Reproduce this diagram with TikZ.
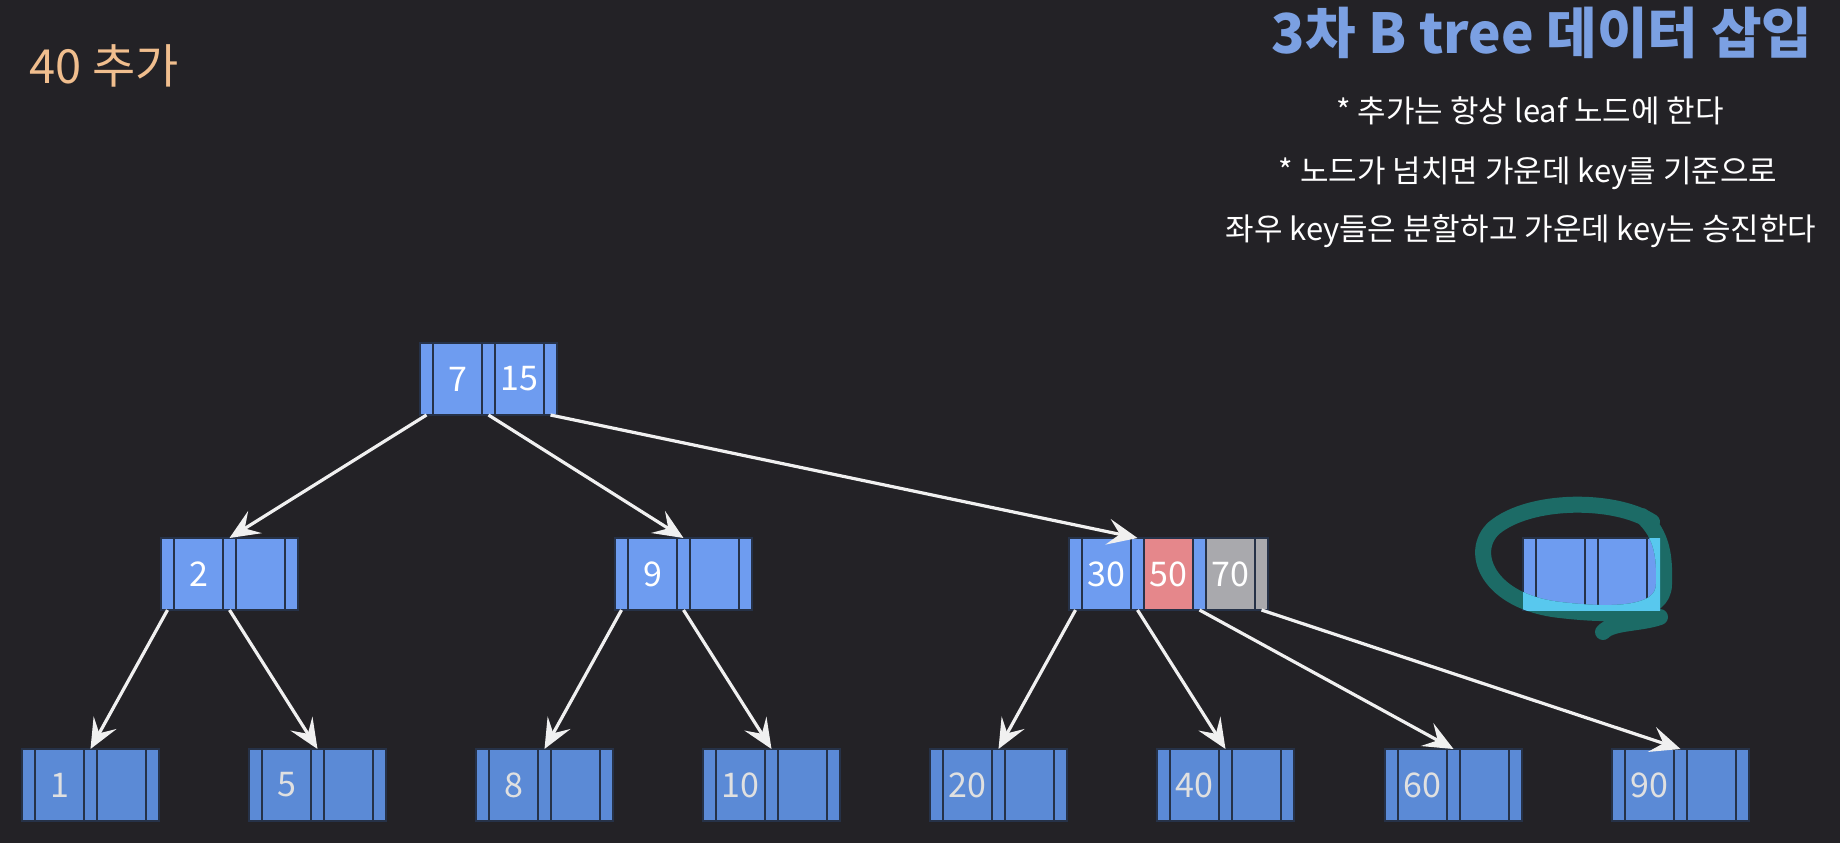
\documentclass[tikz,border=0pt]{standalone}
\usepackage{fontspec}
\setmainfont{Noto Sans CJK KR}
\usetikzlibrary{positioning, arrows.meta}
\definecolor{bg}{HTML}{232226}
\definecolor{slot}{HTML}{6E9CF0}
\definecolor{leafslot}{HTML}{5B8AD6}
\definecolor{slotline}{HTML}{263248}
\definecolor{newkey}{HTML}{E5878B}
\definecolor{overkey}{HTML}{A9A9AD}
\definecolor{titleblue}{HTML}{7BA0E2}
\definecolor{addtext}{HTML}{F0BE8E}
\definecolor{markline}{HTML}{1C6B66}
\definecolor{markhi}{HTML}{58C8EE}

% one b-tree node: name, top-left corner, left key, right key
\newcommand{\btnode}[4]{%
  \node[ptr, anchor=north west] (#1-p0) at (#2) {};
  \node[key, right=0pt of #1-p0] (#1-k1) {#3};
  \node[ptr, right=0pt of #1-k1] (#1-p1) {};
  \node[key, right=0pt of #1-p1] (#1-k2) {#4};
  \node[ptr, right=0pt of #1-k2] (#1-p2) {};
}
\newcommand{\markpath}{(1652,522) .. controls (1615,498) and (1530,498) .. (1494,528)
  .. controls (1468,552) and (1488,602) .. (1560,610)
  .. controls (1612,616) and (1664,616) .. (1664,584)
  .. controls (1665,556) and (1662,534) .. (1642,516)
  (1660,617) .. controls (1640,624) and (1612,622) .. (1603,632)}

\begin{document}
\begin{tikzpicture}[
    x=1pt, y=-1pt,
    ptr/.style={draw=slotline, fill=slot, line width=1.5pt, minimum width=13pt,
                minimum height=72pt, inner sep=0pt, outer sep=0pt},
    key/.style={ptr, minimum width=49pt, text=white, font=\fontsize{34}{36}\selectfont},
    link/.style={draw=white!94!black, line width=3.2pt,
                 -{Stealth[length=30pt, width=26pt, inset=12pt]}},
    note/.style={text=white, font=\fontsize{31}{34}\selectfont},
    penstroke/.style={line width=16pt, line cap=round, line join=round},
]
\fill[bg] (0,0) rectangle (1840,843);
\useasboundingbox (0,0) rectangle (1840,843);

% headings
\node[text=titleblue, font=\fontsize{55}{60}\selectfont\bfseries] (title) at (1542,33) {3차 B tree 데이터 삽입};
\node[note] (rule1) at (1530,111) {* 추가는 항상 leaf 노드에 한다};
\node[note] (rule2) at (1528,173) {* 노드가 넘치면 가운데 key를 기준으로};
\node[note] (rule3) at (1521,231) {좌우 key들은 분할하고 가운데 key는 승진한다};
\node[text=addtext, font=\fontsize{47}{50}\selectfont, anchor=west] (step) at (26,66) {40 추가};

% root and inner nodes
\btnode{root}{420,343}{7}{15}
\btnode{n2}{161,538}{2}{}
\btnode{n9}{615,538}{9}{}
\btnode{empty}{1523,538}{}{}

% overflowing node
\node[ptr, anchor=north west] (n30-p0) at (1069,538) {};
\node[key, right=0pt of n30-p0] (n30-k1) {30};
\node[ptr, right=0pt of n30-k1] (n30-p1) {};
\node[key, fill=newkey, right=0pt of n30-p1] (n30-k2) {50};
\node[ptr, right=0pt of n30-k2] (n30-p2) {};
\node[key, fill=overkey, right=0pt of n30-p2] (n30-k3) {70};
\node[ptr, fill=overkey, right=0pt of n30-k3] (n30-p3) {};

% leaves
\begin{scope}[ptr/.append style={fill=leafslot}, key/.append style={text=black!12}]
\btnode{l1}{22,749}{1}{}
\btnode{l5}{249,749}{5}{}
\btnode{l8}{476,749}{8}{}
\btnode{l10}{703,749}{10}{}
\btnode{l20}{930,749}{20}{}
\btnode{l40}{1157,749}{40}{}
\btnode{l60}{1385,749}{60}{}
\btnode{l90}{1612,749}{90}{}
\end{scope}

\draw[link] (root-p0.south) -- (n2-p1.north);
\draw[link] (root-p1.south) -- (n9-p1.north);
\draw[link] (root-p2.south) -- (n30-p1.north);
\draw[link] (n2-p0.south) -- (l1-p1.north);
\draw[link] (n2-p1.south) -- (l5-p1.north);
\draw[link] (n9-p0.south) -- (l8-p1.north);
\draw[link] (n9-p1.south) -- (l10-p1.north);
\draw[link] (n30-p0.south) -- (l20-p1.north);
\draw[link] (n30-p1.south) -- (l40-p1.north);
\draw[link] (n30-p2.south) -- (l60-p1.north);
\draw[link] (n30-p3.south) -- (l90-p1.north);

% hand drawn mark round the empty node
\draw[penstroke, markline] \markpath;
\begin{scope}
  \clip (empty-p0.north west) rectangle (empty-p2.south east);
  \draw[penstroke, markhi] \markpath;
\end{scope}
\end{tikzpicture}
\end{document}
